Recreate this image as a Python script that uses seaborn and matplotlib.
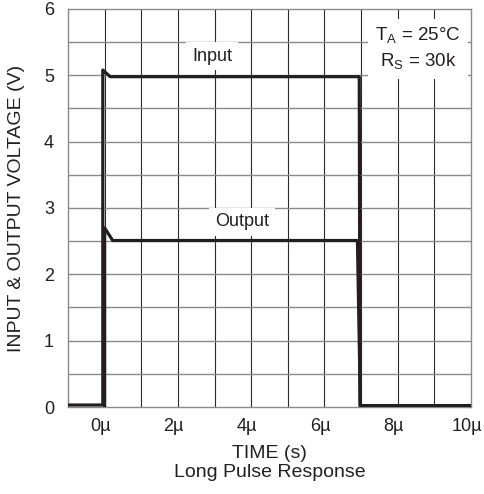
import numpy as np
import pandas as pd
import matplotlib
matplotlib.use("Agg")
import matplotlib.pyplot as plt
import matplotlib.transforms as mtransforms
import seaborn as sns

# ---- values ----
input_t = [-1.0, -0.05, -0.05, 0.15, 6.95, 6.97, 10.0]
input_v = [0.03, 0.03, 5.08, 4.98, 4.98, 0.02, 0.02]
output_t = [0.0, 0.0, 0.22, 6.90, 6.98, 10.0]
output_v = [0.0, 2.70, 2.51, 2.51, 0.02, 0.02]

x_ticks = [0, 2, 4, 6, 8, 10]
x_labels = ["0µ", "2µ", "4µ", "6µ", "8µ", "10µ"]
y_ticks = [0, 1, 2, 3, 4, 5, 6]

sns.set_style("white")
plt.rcParams['font.family'] = ['Liberation Sans', 'DejaVu Sans']

df_in = pd.DataFrame({"t": input_t, "v": input_v})
df_out = pd.DataFrame({"t": output_t, "v": output_v})

fig = plt.figure(figsize=(4.84, 4.94), dpi=100)
ax = fig.add_axes([68 / 484, 1 - 407 / 494, 403 / 484, 398 / 494])

# grid: vertical every 1µ (dark), horizontal every 0.5 V (gray)
for xv in np.arange(0, 10):
    ax.axvline(xv, color="#2a2a2a", lw=0.8, zorder=1)
for yv in np.arange(0.5, 6, 0.5):
    ax.axhline(yv, color="#8a8a8a", lw=1.0, zorder=1)

line_col = "#231f20"
sns.lineplot(data=df_in, x="t", y="v", sort=False, estimator=None,
             color=line_col, lw=2.3, ax=ax, zorder=4)
sns.lineplot(data=df_out, x="t", y="v", sort=False, estimator=None,
             color=line_col, lw=2.3, ax=ax, zorder=4)

ax.set_xlim(-1, 10)
ax.set_ylim(0, 6)
ax.set_xticks(x_ticks)
ax.set_xticklabels(x_labels)
ax.set_yticks(y_ticks)
ax.tick_params(length=0, labelsize=13, colors="#231f20")
ax.tick_params(axis="x", pad=8)
ax.tick_params(axis="y", pad=10)
# labels in the reference sit a little left of their gridline
shift = mtransforms.ScaledTranslation(-3 / 72, 0, fig.dpi_scale_trans)
for lab in ax.get_xticklabels():
    lab.set_transform(lab.get_transform() + shift)
for s in ax.spines.values():
    s.set_color("#8a8a8a")
    s.set_linewidth(1.0)

ax.set_xlabel("TIME (s)\nLong Pulse Response", fontsize=14, color="#231f20",
              linespacing=1.2, va="top")
ax.xaxis.set_label_coords(0.5, -0.095)
ax.set_ylabel("INPUT & OUTPUT VOLTAGE (V)", fontsize=14, color="#231f20",
              va="center")
ax.yaxis.set_label_coords(-0.127, 0.5)

box = dict(facecolor="white", edgecolor="none", pad=4)
ax.text(2.93, 5.29, "Input", ha="center", va="center", fontsize=13,
        color="#231f20", bbox=box, zorder=3)
ax.text(3.75, 2.79, "Output", ha="center", va="center", fontsize=13,
        color="#231f20", bbox=box, zorder=3)
ax.text(8.55, 5.40, "T$_\\mathregular{A}$ = 25°C\nR$_\\mathregular{S}$ = 30k",
        ha="center", va="center", fontsize=13.5, color="#231f20",
        linespacing=1.35, bbox=dict(facecolor="white", edgecolor="none", pad=5),
        zorder=3)

fig.savefig("out.png", dpi=100)
